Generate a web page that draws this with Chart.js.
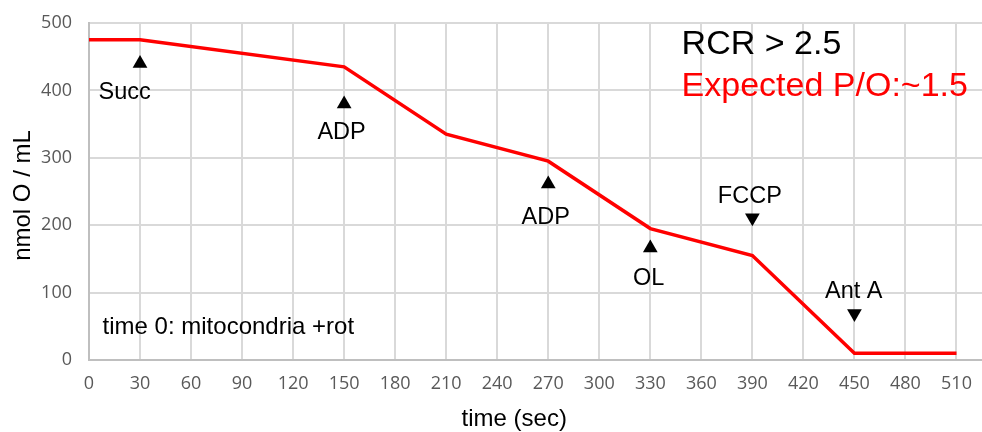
<!DOCTYPE html>
<html>
<head>
<meta charset="utf-8">
<script src="https://cdn.jsdelivr.net/npm/chart.js@4"></script>
<style>
  html, body { margin: 0; padding: 0; background: #fff; }
  canvas { display: block; }
</style>
</head>
<body>
<canvas id="o2Chart" width="982" height="432"></canvas>
<script>
// oxygen trace
const timeSec = [0, 30, 150, 210, 270, 330, 390, 450, 510];
const o2Conc = [475, 475, 435, 335, 295, 195, 155, 10, 10];

const xTicks = [0, 30, 60, 90, 120, 150, 180, 210, 240, 270, 300, 330, 360, 390, 420, 450, 480, 510];
const yTicks = [0, 100, 200, 300, 400, 500];

// additions (triangles + their labels), in data units
const addNames = ["Succ", "ADP", "ADP", "OL", "FCCP", "Ant A"];
const addTime = [30, 150, 270, 330, 390, 450];
const addMarkY = [440, 380, 261, 166, 211, 69];
const addDown = [false, false, false, false, true, true];
const addLabelX = [21, 148.5, 268.5, 329, 388.5, 449.6];
const addLabelY = [387, 328, 202, 112, 233, 92];

const notes = ["RCR > 2.5", "Expected P/O:~1.5", "time 0: mitocondria +rot"];
const noteX = [348.4, 348.4, 8];
const noteY = [454, 392, 38];

const TICK_FONT = "'Open Sans', sans-serif";
const TEXT_FONT = "'Liberation Sans', Arial, sans-serif";

const textPlugin = {
  id: "texts",
  afterDatasetsDraw(chart) {
    const { ctx, scales: { x, y }, chartArea } = chart;
    ctx.save();
    ctx.fillStyle = "#000";
    ctx.textBaseline = "alphabetic";

    // addition labels
    ctx.font = "23.5px " + TEXT_FONT;
    ctx.textAlign = "center";
    addNames.forEach((name, i) => {
      ctx.fillText(name, x.getPixelForValue(addLabelX[i]), y.getPixelForValue(addLabelY[i]));
    });

    // notes
    ctx.textAlign = "left";
    ctx.font = "34px " + TEXT_FONT;
    ctx.fillText(notes[0], x.getPixelForValue(noteX[0]), y.getPixelForValue(noteY[0]));
    ctx.fillStyle = "#ff0000";
    ctx.fillText(notes[1], x.getPixelForValue(noteX[1]), y.getPixelForValue(noteY[1]));
    ctx.fillStyle = "#000";
    ctx.font = "24px " + TEXT_FONT;
    ctx.fillText(notes[2], x.getPixelForValue(noteX[2]), y.getPixelForValue(noteY[2]));

    // axis titles
    ctx.font = "24px " + TEXT_FONT;
    ctx.textAlign = "center";
    ctx.fillText("time (sec)", x.getPixelForValue(250), 426);
    ctx.translate(30, (chartArea.top + chartArea.bottom) / 2 + 4);
    ctx.rotate(-Math.PI / 2);
    ctx.fillText("nmol O / mL", 0, 0);
    ctx.restore();
  }
};

const ctx = document.getElementById("o2Chart").getContext("2d");
new Chart(ctx, {
  type: "scatter",
  data: {
    datasets: [
      {
        data: addTime.map((t, i) => ({ x: t, y: addMarkY[i] })),
        pointStyle: "triangle",
        pointRadius: 8.5,
        rotation: addDown.map(d => (d ? 180 : 0)),
        backgroundColor: "#000",
        borderColor: "#000",
        borderWidth: 0,
        order: 0,
      },
      {
        data: timeSec.map((t, i) => ({ x: t, y: o2Conc[i] })),
        showLine: true,
        borderColor: "#ff0000",
        borderWidth: 3.5,
        pointRadius: 0,
        tension: 0,
        order: 1,
      },
    ],
  },
  options: {
    responsive: false,
    animation: false,
    layout: { autoPadding: false, padding: { top: 23, right: 0, bottom: 0, left: 0 } },
    plugins: {
      legend: { display: false },
      tooltip: { enabled: false },
      title: { display: false },
    },
    scales: {
      x: {
        type: "linear",
        min: 0,
        max: 525,
        afterBuildTicks: s => { s.ticks = xTicks.map(v => ({ value: v })); },
        afterFit: s => { s.height = 72; },
        // invisible tick marks give the label gap without padding the chart area
        grid: { color: "#d9d9d9", lineWidth: 2, drawTicks: true, tickLength: 13, tickColor: "rgba(0,0,0,0)" },
        border: { color: "#bfbfbf", width: 2 },
        ticks: {
          padding: 0,
          color: "#595959",
          font: { family: TICK_FONT, size: 18 },
          maxRotation: 0,
          autoSkip: false,
        },
      },
      y: {
        min: 0,
        max: 500,
        afterBuildTicks: s => { s.ticks = yTicks.map(v => ({ value: v })); },
        afterFit: s => { s.width = 89; },
        grid: { color: "#d9d9d9", lineWidth: 2, drawTicks: true, tickLength: 17, tickColor: "rgba(0,0,0,0)" },
        border: { color: "#bfbfbf", width: 2 },
        ticks: {
          padding: 0,
          color: "#595959",
          font: { family: TICK_FONT, size: 18 },
        },
      },
    },
  },
  plugins: [textPlugin],
});
</script>
</body>
</html>
